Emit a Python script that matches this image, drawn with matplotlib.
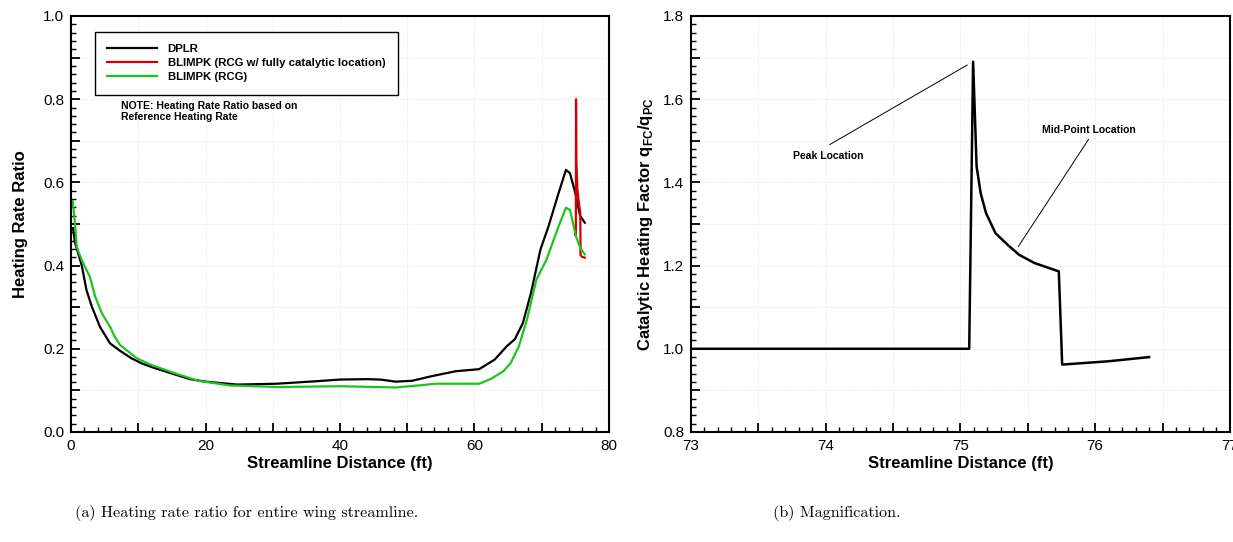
import numpy as np
import matplotlib
matplotlib.use('Agg')
import matplotlib.pyplot as plt
from matplotlib.ticker import MultipleLocator, FuncFormatter

plt.rcParams['font.family'] = ['Liberation Sans', 'DejaVu Sans']
plt.rcParams['mathtext.fontset'] = 'custom'
plt.rcParams['mathtext.rm'] = 'Liberation Sans'
plt.rcParams['mathtext.bf'] = 'Liberation Sans:bold'

# (a) heating rate ratio along the wing streamline
dplr_x = [0.3, 0.6, 1.6, 2.3, 3.1, 4.3, 5.8, 7.3, 9.0, 10.5, 12.0, 14.7, 17.7, 20.0,
          24.7, 30.6, 36.5, 40.0, 44.0, 46.0, 48.3, 50.7, 53.6, 57.2, 60.7, 63.0,
          64.8, 66.0, 67.2, 68.4, 69.8, 71.0, 72.5, 73.6, 74.2, 75.0, 75.7, 76.4]
dplr_y = [0.49, 0.455, 0.40, 0.341, 0.301, 0.253, 0.213, 0.195, 0.177, 0.165, 0.156,
          0.142, 0.127, 0.121, 0.114, 0.116, 0.122, 0.126, 0.127, 0.126, 0.121, 0.123,
          0.134, 0.146, 0.151, 0.174, 0.206, 0.223, 0.262, 0.334, 0.438, 0.494, 0.574,
          0.630, 0.622, 0.574, 0.520, 0.503]

rcg_x = [0.25, 0.6, 0.85, 1.6, 2.2, 2.8, 3.6, 4.6, 5.8, 6.5, 7.3, 9.8, 11.8, 15.3,
         18.9, 23.6, 30.6, 40.0, 48.3, 51.8, 54.2, 60.7, 62.5, 64.3, 65.4, 66.6,
         67.8, 69.2, 70.7, 72.5, 73.6, 74.2, 75.1, 75.75, 76.4]
rcg_y = [0.555, 0.50, 0.445, 0.413, 0.393, 0.373, 0.325, 0.285, 0.253, 0.229, 0.209,
         0.177, 0.162, 0.142, 0.123, 0.112, 0.108, 0.110, 0.107, 0.112, 0.116, 0.116,
         0.128, 0.146, 0.166, 0.206, 0.27, 0.366, 0.414, 0.494, 0.539, 0.534, 0.47,
         0.442, 0.427]

fc_x = [75.0, 75.07, 75.1, 75.15, 75.3, 75.5, 75.74, 75.77, 76.0, 76.4]
fc_y = [0.475, 0.472, 0.80, 0.65, 0.585, 0.555, 0.525, 0.425, 0.421, 0.419]

# (b) catalytic heating factor (magnified)
cf_x = [73.0, 75.065, 75.094, 75.12, 75.15, 75.19, 75.26, 75.35, 75.435, 75.55,
        75.65, 75.73, 75.755, 76.1, 76.4]
cf_y = [1.0, 1.0, 1.69, 1.438, 1.374, 1.326, 1.278, 1.25, 1.226, 1.206, 1.195,
        1.186, 0.962, 0.97, 0.98]


def style_axes(ax, xmaj, xlab_step, ymaj, ylab_step, xminor, yminor):
    for side in ['top', 'right', 'left', 'bottom']:
        ax.spines[side].set_linewidth(1.5)
    ax.xaxis.set_major_locator(MultipleLocator(xmaj))
    ax.xaxis.set_minor_locator(MultipleLocator(xminor))
    ax.yaxis.set_major_locator(MultipleLocator(ymaj))
    ax.yaxis.set_minor_locator(MultipleLocator(yminor))

    def fmt(step, dec):
        def f(v, pos):
            k = v / step
            if abs(k - round(k)) < 1e-6:
                return ('%.' + str(dec) + 'f') % v
            return ''
        return FuncFormatter(f)
    ax.xaxis.set_major_formatter(fmt(xlab_step, 0))
    ax.yaxis.set_major_formatter(fmt(ylab_step, 1))
    ax.tick_params(which='major', direction='in', length=6.5, width=1.3,
                   labelsize=11, pad=5, top=False, right=False)
    ax.tick_params(which='minor', direction='in', length=3.8, width=1.0,
                   top=False, right=False)
    ax.grid(True, which='major', color='#e2e2e2', linestyle=':', linewidth=0.6)


fig = plt.figure(figsize=(12.33, 5.42), dpi=100)

ax1 = fig.add_axes([0.0576, 0.2030, 0.4363, 0.7675])
ax1.plot(dplr_x, dplr_y, color='black', lw=1.6, label='DPLR')
ax1.plot(fc_x, fc_y, color='#d40000', lw=1.6,
         label='BLIMPK (RCG w/ fully catalytic location)')
ax1.plot(rcg_x, rcg_y, color='#1ec41e', lw=1.6, label='BLIMPK (RCG)')
ax1.set_xlim(0, 80)
ax1.set_ylim(0, 1.0)
style_axes(ax1, 10, 20, 0.1, 0.2, 2, 0.02)
ax1.set_xlabel('Streamline Distance (ft)', fontsize=12, fontweight='bold', labelpad=2)
ax1.set_ylabel('Heating Rate Ratio', fontsize=12, fontweight='bold', labelpad=11)
leg = ax1.legend(loc='upper left', bbox_to_anchor=(0.044, 0.962),
                 prop={'weight': 'bold', 'size': 8.2}, handlelength=4.4,
                 handletextpad=0.9, labelspacing=0.35, borderpad=1.1,
                 borderaxespad=0, fancybox=False, framealpha=1, edgecolor='black')
leg.get_frame().set_linewidth(1.0)
ax1.text(0.093, 0.795, 'NOTE: Heating Rate Ratio based on\nReference Heating Rate',
         transform=ax1.transAxes, fontsize=7.5, fontweight='bold',
         va='top', ha='left', linespacing=1.1)

ax2 = fig.add_axes([0.5604, 0.2030, 0.4371, 0.7675])
ax2.plot(cf_x, cf_y, color='black', lw=1.8)
ax2.set_xlim(73, 77)
ax2.set_ylim(0.8, 1.8)
style_axes(ax2, 0.5, 1, 0.1, 0.2, 0.1, 0.02)
ax2.set_xlabel('Streamline Distance (ft)', fontsize=12, fontweight='bold', labelpad=2)
ax2.set_ylabel(r'Catalytic Heating Factor q$_{\mathbf{FC}}$/q$_{\mathbf{PC}}$',
               fontsize=12, fontweight='bold', labelpad=6)

# annotation leaders
ax2.plot([74.03, 75.05], [1.491, 1.682], color='black', lw=0.7)
ax2.text(74.02, 1.464, 'Peak Location', fontsize=7.5, fontweight='bold',
         ha='center', va='center')
ax2.plot([75.95, 75.43], [1.503, 1.246], color='black', lw=0.7)
ax2.text(75.95, 1.526, 'Mid-Point Location', fontsize=7.5, fontweight='bold',
         ha='center', va='center')

fig.text(0.2, 0.0535, '(a) Heating rate ratio for entire wing streamline.',
         family='cmr10', fontsize=11.6, ha='center', va='center')
fig.text(0.679, 0.0535, '(b) Magnification.', family='cmr10', fontsize=11.6,
         ha='center', va='center')

plt.savefig('out.png', dpi=100)
plt.close()
